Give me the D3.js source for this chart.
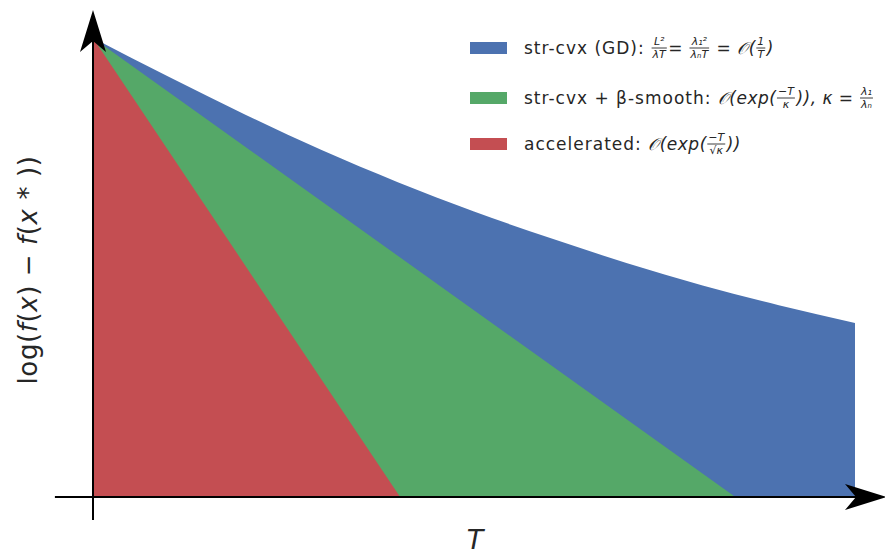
<!DOCTYPE html>
<html>
<head>
<meta charset="utf-8">
<script src="https://cdn.jsdelivr.net/npm/d3@7"></script>
<style>
  body { margin: 0; background: #fff; }
  text { font-family: "DejaVu Sans", sans-serif; fill: #262626; white-space: pre; }
</style>
</head>
<body>
<svg id="chart" width="885" height="553"></svg>
<script>
// values (arbitrary units, T from 0 to 10)
const tSteps = [0, 1, 2, 3, 4, 5, 6, 7, 8, 9, 10];
const gdValues = [10, 9.15, 8.33, 7.56, 6.86, 6.22, 5.64, 5.10, 4.61, 4.18, 3.79];
const smoothLine = [[0, 10], [8.43, 0]];
const accelLine = [[0, 10], [4.03, 0]];
const colors = ['#4C72B0', '#55A868', '#C44E52'];

const svg = d3.select('#chart');
const x = d3.scaleLinear().domain([0, 10]).range([93, 855]);
const y = d3.scaleLinear().domain([0, 10]).range([497, 38]);

// blue area: under the 1/T curve down to zero
const area = d3.area()
    .x(d => x(d[0]))
    .y0(y(0))
    .y1(d => y(d[1]))
    .curve(d3.curveMonotoneX);

svg.append('path')
    .datum(tSteps.map((t, i) => [t, gdValues[i]]))
    .attr('fill', colors[0])
    .attr('d', area);

const tri = d3.area()
    .x(d => x(d[0]))
    .y0(y(0))
    .y1(d => y(d[1]));

svg.append('path').datum(smoothLine).attr('fill', colors[1]).attr('d', tri);
svg.append('path').datum(accelLine).attr('fill', colors[2]).attr('d', tri);

// axes with arrow heads
svg.append('line')
    .attr('x1', x(-0.5)).attr('x2', x(10.3))
    .attr('y1', y(0)).attr('y2', y(0))
    .attr('stroke', '#000').attr('stroke-width', 2);
svg.append('line')
    .attr('x1', x(0)).attr('x2', x(0))
    .attr('y1', y(-0.5)).attr('y2', y(10.4))
    .attr('stroke', '#000').attr('stroke-width', 2);

const x0 = x(0), y0 = y(0);
svg.append('path')
    .attr('d', `M${x0},10 L${x0 + 13},52 L${x0},41 L${x0 - 13},52 Z`)
    .attr('fill', '#000');
svg.append('path')
    .attr('d', `M887,${y0} L845,${y0 - 13} L856,${y0} L845,${y0 + 13} Z`)
    .attr('fill', '#000');

// axis labels
svg.append('text')
    .attr('x', 475).attr('y', 549)
    .attr('text-anchor', 'middle')
    .style('font-size', '27px').style('font-style', 'italic')
    .text('T');

const yl = svg.append('text')
    .attr('transform', 'translate(37,270) rotate(-90)')
    .attr('text-anchor', 'middle')
    .style('font-size', '26px')
    .style('letter-spacing', '0.6px');
[['log(', 'normal'], ['f', 'italic'], ['(', 'normal'], ['x', 'italic'], [') − ', 'normal'],
 ['f', 'italic'], ['(', 'normal'], ['x', 'italic'], [' * ', 'normal'], ['))', 'normal']]
    .forEach(p => yl.append('tspan').style('font-style', p[1]).text(p[0]));

// legend: t = plain text, m = math (italic), u = math upright, n/d = fraction
const legendItems = [
  [{t: 'str-cvx (GD): '}, {n: 'L²', d: 'λT'}, {u: '= '}, {n: 'λ₁²', d: 'λₙT'},
   {u: ' = '}, {m: '𝒪('}, {n: '1', d: 'T'}, {m: ')'}],
  [{t: 'str-cvx + β-smooth: '}, {m: '𝒪(exp('}, {n: '−T', d: 'κ'}, {m: ')), κ'}, {u: ' = '},
   {n: 'λ₁', d: 'λₙ'}],
  [{t: 'accelerated: '}, {m: '𝒪(exp('}, {n: '−T', d: '√κ'}, {m: '))'}]
];
const legendY = [48, 98, 144];

legendItems.forEach((parts, i) => {
  const cy = legendY[i];
  svg.append('rect')
      .attr('x', 470).attr('y', cy - 6).attr('width', 37).attr('height', 12)
      .attr('fill', colors[i]);
  let cx = 524;
  parts.forEach(p => {
    const str = p.t ?? p.m ?? p.u;
    if (str !== undefined) {
      const tx = svg.append('text')
          .attr('x', cx).attr('y', cy + 6)
          .style('font-size', '17px')
          .style('letter-spacing', p.t !== undefined ? '1px' : '0.5px')
          .style('font-style', p.m !== undefined ? 'italic' : 'normal')
          .text(str);
      cx += tx.node().getComputedTextLength();
    } else {
      const num = svg.append('text')
          .attr('y', cy - 3).style('font-size', '11px').style('font-style', 'italic')
          .attr('text-anchor', 'middle').text(p.n);
      const den = svg.append('text')
          .attr('y', cy + 10).style('font-size', '11px').style('font-style', 'italic')
          .attr('text-anchor', 'middle').text(p.d);
      const w = Math.max(num.node().getComputedTextLength(), den.node().getComputedTextLength()) + 3;
      num.attr('x', cx + w / 2);
      den.attr('x', cx + w / 2);
      svg.append('line')
          .attr('x1', cx + 0.5).attr('x2', cx + w - 0.5)
          .attr('y1', cy).attr('y2', cy)
          .attr('stroke', '#262626').attr('stroke-width', 0.9);
      cx += w + 1;
    }
  });
});
</script>
</body>
</html>
